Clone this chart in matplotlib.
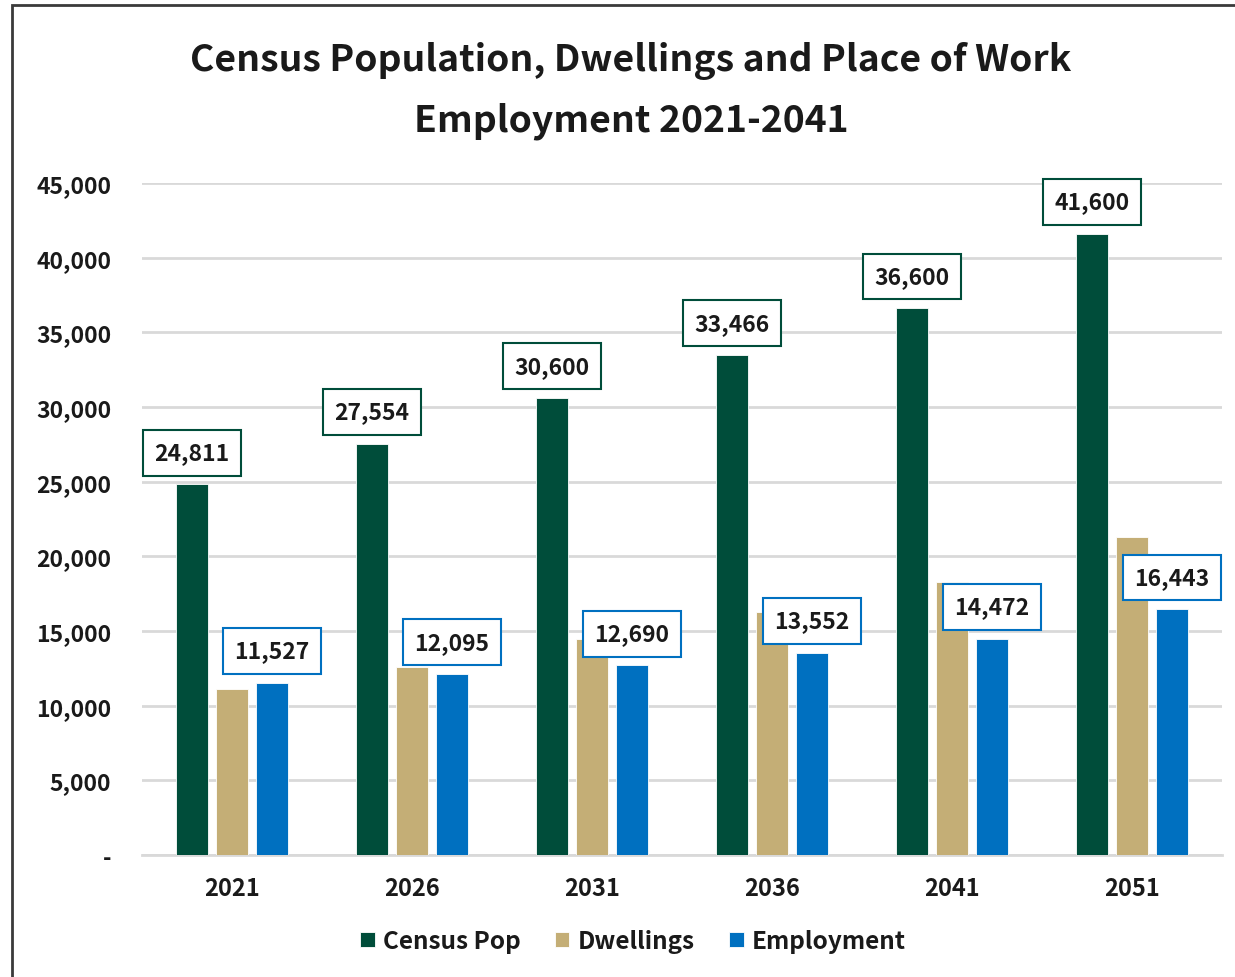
import matplotlib
matplotlib.use("Agg")
import matplotlib.pyplot as plt
import numpy as np
from matplotlib.patches import Rectangle
from matplotlib.ticker import FuncFormatter

years = ["2021", "2026", "2031", "2036", "2041", "2051"]
census_pop = [24811, 27554, 30600, 33466, 36600, 41600]
dwellings = [11100, 12600, 14450, 16300, 18300, 21300]
employment = [11527, 12095, 12690, 13552, 14472, 16443]

GREEN = "#004D3A"
TAN = "#C4AE76"
BLUE = "#0070C0"
GRID = "#D9D9D9"
TEXT = "#1A1A1A"

plt.rcParams["font.family"] = ["Noto Sans CJK JP", "DejaVu Sans"]

fig = plt.figure(figsize=(12.35, 9.78), dpi=100)
ax = fig.add_axes([142 / 1235, 1 - 856 / 978, 1080 / 1235, (856 - 184) / 978])

x = np.arange(len(years))
w = 0.178
step = 0.222
ax.bar(x - step, census_pop, w, color=GREEN, edgecolor="white", linewidth=0.6, label="Census Pop", zorder=3)
ax.bar(x, dwellings, w, color=TAN, edgecolor="white", linewidth=0.6, label="Dwellings", zorder=3)
ax.bar(x + step, employment, w, color=BLUE, edgecolor="white", linewidth=0.6, label="Employment", zorder=3)

ax.set_xlim(-0.5, len(years) - 0.5)
ax.set_ylim(0, 45000)
ax.set_yticks(np.arange(0, 45001, 5000))
ax.yaxis.set_major_formatter(FuncFormatter(lambda v, p: "-" if v == 0 else f"{int(v):,}"))
ax.set_xticks(x)
ax.set_xticklabels(years)
ax.grid(axis="y", color=GRID, linewidth=2, zorder=0)
ax.set_axisbelow(True)
for s in ["top", "right", "left"]:
    ax.spines[s].set_visible(False)
ax.spines["bottom"].set_color(GRID)
ax.spines["bottom"].set_linewidth(2)
ax.tick_params(axis="y", length=0, labelsize=16.5, labelcolor=TEXT, pad=22)
ax.tick_params(axis="x", length=0, labelsize=17, labelcolor=TEXT, pad=15)
for lab in ax.get_xticklabels() + ax.get_yticklabels():
    lab.set_fontweight("bold")

def add_labels(xs, vals, edge):
    for xi, v in zip(xs, vals):
        ax.annotate(f"{v:,}", xy=(xi, v), xytext=(0, 23), textcoords="offset points",
                    ha="center", va="center", fontsize=16.5, fontweight="bold", color=TEXT,
                    bbox=dict(boxstyle="square,pad=0.5", fc="white", ec=edge, lw=1.5),
                    zorder=5, annotation_clip=False)

add_labels(x - step, census_pop, GREEN)
add_labels(x + step, employment, BLUE)

fig.text(631 / 1235, 1 - 61 / 978, "Census Population, Dwellings and Place of Work",
         ha="center", va="center", fontsize=26.8, fontweight="bold", color=TEXT)
fig.text(631 / 1235, 1 - 121 / 978, "Employment 2021-2041",
         ha="center", va="center", fontsize=26.8, fontweight="bold", color=TEXT)

leg = fig.legend(loc="center", bbox_to_anchor=(633 / 1235, 1 - 942 / 978), ncol=3, frameon=False,
                 handlelength=0.6, handleheight=0.6, handletextpad=0.35,
                 columnspacing=1.4, prop={"weight": "bold", "size": 17.5})
for t in leg.get_texts():
    t.set_color(TEXT)

fig.patches.append(Rectangle((12 / 1235, -0.1), 1.2, 1.1 - 6 / 978, transform=fig.transFigure,
                             fill=False, ec="#3A3A3A", lw=2, zorder=10))

fig.savefig("out.png", dpi=100)
